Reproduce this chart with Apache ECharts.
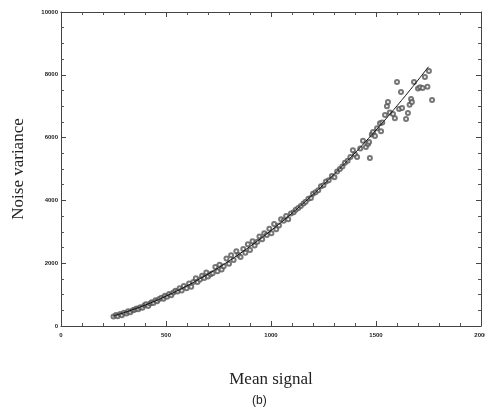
<!DOCTYPE html>
<html>
<head>
	<meta charset="utf-8">
	<title>Noise variance vs mean signal</title>
	<script src="https://cdn.jsdelivr.net/npm/echarts@6/dist/echarts.min.js"></script>
</head>
<body style="margin:0">
	<div id="main" style="width:485px; height:418px"></div>
	<script type="text/javascript">
	// 散点：均值信号 / 噪声方差
	var meanSignal = [
		250, 262, 270, 282, 290, 300, 312, 320, 330, 342, 350, 360, 368, 378, 388, 398,
		405, 415, 425, 432, 440, 450, 458, 468, 478, 488, 495, 505, 515, 525, 535, 545,
		555, 565, 575, 585, 598, 610, 620, 630, 642, 650, 662, 672, 682, 692, 700, 712,
		722, 735, 745, 755, 765, 775, 788, 800, 810, 822, 835, 845, 855, 868, 878, 890,
		900, 912, 922, 935, 945, 958, 968, 980, 992, 1002, 1015, 1025, 1038, 1048, 1060, 1072,
		1082, 1095, 1108, 1118, 1130, 1142, 1155, 1165, 1178, 1190, 1200, 1212, 1225, 1238, 1250, 1262,
		1275, 1290, 1302, 1315, 1328, 1340, 1352, 1365, 1378, 1390, 1400, 1410, 1425, 1438, 1452, 1462,
		1467, 1471, 1480, 1486, 1495, 1505, 1519, 1524, 1530, 1543, 1552, 1557, 1566, 1581, 1590, 1600,
		1610, 1619, 1624, 1643, 1652, 1660, 1667, 1671, 1681, 1700, 1710, 1722, 1733, 1745, 1752, 1767
	];
	var noiseVar = [
		300, 350, 310, 380, 345, 420, 400, 470, 440, 500, 520, 560, 530, 600, 580, 660,
		690, 640, 720, 760, 730, 820, 790, 860, 900, 870, 960, 930, 1020, 980, 1070, 1120,
		1100, 1200, 1130, 1270, 1200, 1350, 1250, 1400, 1520, 1400, 1480, 1600, 1530, 1700, 1580, 1650,
		1680, 1880, 1740, 1950, 1800, 1900, 2150, 1980, 2250, 2100, 2380, 2260, 2200, 2450, 2330, 2600,
		2420, 2700, 2560, 2680, 2850, 2760, 2950, 2900, 3100, 2950, 3250, 3080, 3200, 3400, 3350, 3500,
		3400, 3580, 3620, 3700, 3760, 3820, 3900, 3960, 4050, 4080, 4210, 4260, 4320, 4450, 4480, 4600,
		4640, 4780, 4740, 4920, 5000, 5080, 5200, 5260, 5380, 5600, 5460, 5380, 5650, 5900, 5700, 5800,
		5860, 5350, 6100, 6180, 6050, 6300, 6460, 6200, 6480, 6720, 7000, 7130, 6800, 6750, 6620, 7770,
		6910, 7450, 6940, 6590, 6780, 7050, 7230, 7130, 7770, 7560, 7600, 7580, 7930, 7620, 8120, 7200
	];
	// 拟合曲线
	var fitX = [250, 300, 350, 400, 450, 500, 550, 600, 650, 700, 750, 800, 850, 900, 950, 1000,
		1050, 1100, 1150, 1200, 1250, 1300, 1350, 1400, 1450, 1500, 1550, 1600, 1650, 1700, 1750];
	var fitY = [321, 425, 539, 665, 802, 950, 1109, 1279, 1460, 1653, 1856, 2071, 2296, 2533, 2781, 3040,
		3309, 3591, 3883, 4187, 4501, 4827, 5163, 5511, 5870, 6240, 6620, 7013, 7416, 7831, 8256];

	var myChart = echarts.init(document.getElementById('main'));

	var axisCommon = {
		type: 'value',
		axisLine: {show: true, onZero: false, lineStyle: {color: '#444', width: 1}},
		axisTick: {show: true, inside: true, length: 5, lineStyle: {color: '#444'}},
		minorTick: {show: true, length: 3, lineStyle: {color: '#555'}},
		splitLine: {show: false}
	};
	// 刻度标签不要千位分隔符
	var labelStyle = {fontSize: 6, color: '#222', fontWeight: 'bold', fontFamily: 'Liberation Sans',
		formatter: function (v) { return String(v); }};

	var option = {
		backgroundColor: '#ffffff',
		animation: false,
		grid: {left: 61, right: 4, top: 12, bottom: 92, outerBoundsMode: 'none'},
		xAxis: [
			Object.assign({}, axisCommon, {
				min: 0, max: 2000, interval: 500,
				minorTick: Object.assign({}, axisCommon.minorTick, {splitNumber: 5}),
				axisLabel: Object.assign({margin: 6}, labelStyle),
				name: 'Mean signal',
				nameLocation: 'middle',
				nameGap: 45,
				nameTextStyle: {fontFamily: 'Liberation Serif', fontSize: 17, color: '#222'}
			}),
			Object.assign({}, axisCommon, {
				position: 'top', min: 0, max: 2000, interval: 500,
				minorTick: Object.assign({}, axisCommon.minorTick, {splitNumber: 5}),
				axisLabel: {show: false}
			})
		],
		yAxis: [
			Object.assign({}, axisCommon, {
				min: 0, max: 10000, interval: 2000,
				minorTick: Object.assign({}, axisCommon.minorTick, {splitNumber: 4}),
				axisLabel: Object.assign({margin: 3}, labelStyle),
				name: 'Noise variance',
				nameLocation: 'middle',
				nameGap: 34,
				nameTextStyle: {fontFamily: 'Liberation Serif', fontSize: 17, color: '#222'}
			}),
			Object.assign({}, axisCommon, {
				position: 'right', min: 0, max: 10000, interval: 2000,
				minorTick: Object.assign({}, axisCommon.minorTick, {splitNumber: 4}),
				axisLabel: {show: false}
			})
		],
		graphic: [{
			type: 'text',
			left: 252,
			top: 395,
			style: {text: '(b)', fontFamily: 'Liberation Sans', fontSize: 12, fill: '#222'}
		}],
		series: [
			{
				name: 'fit',
				type: 'line',
				xAxisIndex: 0,
				yAxisIndex: 0,
				data: fitX.map(function (x, i) { return [x, fitY[i]]; }),
				smooth: true,
				showSymbol: false,
				lineStyle: {color: '#111', width: 1},
				z: 3
			},
			{
				name: 'points',
				type: 'scatter',
				xAxisIndex: 0,
				yAxisIndex: 0,
				data: meanSignal.map(function (x, i) { return [x, noiseVar[i]]; }),
				symbol: 'emptyCircle',
				symbolSize: 4,
				itemStyle: {color: '#555', borderWidth: 0.8},
				z: 2
			}
		]
	};

	myChart.setOption(option);
	</script>
</body>
</html>
